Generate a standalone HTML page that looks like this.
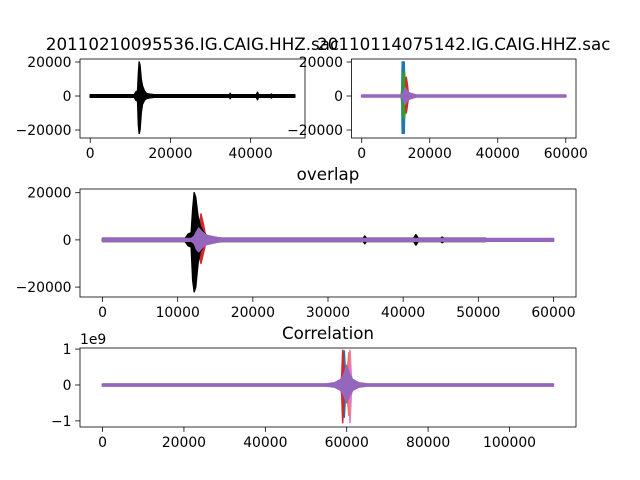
<!DOCTYPE html>
<html><head><meta charset="utf-8"><style>
html,body{margin:0;padding:0;background:#fff;}
svg{display:block;font-family:"DejaVu Sans","Liberation Sans",sans-serif;}
</style></head><body>
<svg id="fig" width="640" height="480" xmlns="http://www.w3.org/2000/svg"></svg>
<script>
// ---------- data (envelopes) ----------
const a1T  = [0,11000,11400,11800,12000,12200,12400,12700,13000,13500,14000,15000,16000,34700,34900,35100,41400,41700,42000,45000,45200,45400,51000];
const a1Up = [700,700,2500,3000,13000,20000,18000,10000,6000,3000,1500,1000,700,700,1600,700,700,2200,700,700,1200,700,700];
const a1Lo = [-700,-700,-2500,-3000,-17000,-22000,-20000,-10000,-5000,-2500,-1500,-1000,-700,-700,-1600,-700,-700,-2200,-700,-700,-1200,-700,-700];

const blueT  = [0,11600,11800,11900,12500,12700,12900,60000];
const blueUp = [400,400,4000,20000,20000,3000,400,400];
const blueLo = [-400,-400,-4000,-22000,-22000,-3000,-400,-400];
const greenT  = [0,11800,12000,12200,12600,12900,13200,60000];
const greenUp = [400,400,8000,14000,14000,5000,400,400];
const greenLo = [-400,-400,-8000,-13000,-13000,-4000,-400,-400];
const redT  = [0,12500,12900,13100,13400,13800,60000];
const redUp = [400,400,6000,11000,7000,400,400];
const redLo = [-400,-400,-6000,-10000,-6000,-400,-400];
const purT  = [0,11800,12200,12500,12800,13200,13800,15000,16000,60000];
const purUp = [600,600,1500,3500,5000,3500,2000,1200,600,600];
const purLo = [-600,-600,-1500,-4000,-5000,-3500,-2000,-1200,-600,-600];

const cBlueT = [0,58800,59200,59400,59700,60000,110750];
const cBlueUp = [0.02e9,0.02e9,0.3e9,0.95e9,0.3e9,0.02e9,0.02e9];
const cBlueLo = [-0.02e9,-0.02e9,-0.3e9,-0.9e9,-0.3e9,-0.02e9,-0.02e9];
const cOrT = [0,59800,60200,60500,60800,61100,110750];
const cOrUp = [0.02e9,0.02e9,0.4e9,0.9e9,0.4e9,0.02e9,0.02e9];
const cOrLo = [-0.02e9,-0.02e9,-0.4e9,-0.85e9,-0.4e9,-0.02e9,-0.02e9];
const cRedT = [0,58500,58800,59000,59300,59600,110750];
const cRedUp = [0.02e9,0.02e9,0.3e9,0.97e9,0.3e9,0.02e9,0.02e9];
const cRedLo = [-0.02e9,-0.02e9,-0.3e9,-1.05e9,-0.3e9,-0.02e9,-0.02e9];
const cPinkT = [0,60300,60600,60800,61100,61400,110750];
const cPinkUp = [0.02e9,0.02e9,0.3e9,0.97e9,0.3e9,0.02e9,0.02e9];
const cPinkLo = [-0.02e9,-0.02e9,-0.3e9,-1.05e9,-0.3e9,-0.02e9,-0.02e9];
const cPurT = [0,55000,57000,58500,59300,60000,60700,61500,63000,65000,110750];
const cPurUp = [0.03e9,0.03e9,0.06e9,0.15e9,0.3e9,0.55e9,0.3e9,0.15e9,0.06e9,0.03e9,0.03e9];
const cPurLo = [-0.03e9,-0.03e9,-0.06e9,-0.15e9,-0.3e9,-0.5e9,-0.3e9,-0.15e9,-0.06e9,-0.03e9,-0.03e9];

const ticks1X = [0,20000,40000];
const ticks2X = [0,20000,40000,60000];
const ticks3X = [0,10000,20000,30000,40000,50000,60000];
const ticks4X = [0,20000,40000,60000,80000,100000];
const ticksSY = [-20000,0,20000];
const ticks4Y = [-1e9,0,1e9];
const ticks4YLab = ["\u22121","0","1"];

// ---------- drawing ----------
const NS="http://www.w3.org/2000/svg";
const fig=document.getElementById('fig');
function mk(tag,attrs,parent){const e=document.createElementNS(NS,tag);for(const k in attrs)e.setAttribute(k,attrs[k]);(parent||fig).appendChild(e);return e;}
function lab(v){return v<0?"\u2212"+(-v):String(v);}

function makeAxes(name,x0,y0,x1,y1,xmin,xmax,ymin,ymax){
  const g=mk('g',{});
  
  
  const ax={g,x0,y0,x1,y1,
    sx:v=>x0+(v-xmin)/(xmax-xmin)*(x1-x0),
    sy:v=>y1-(v-ymin)/(ymax-ymin)*(y1-y0)};
  const cid='clip-'+name;
  const cp=mk('clipPath',{id:cid},g);
  mk('rect',{x:x0,y:y0,width:x1-x0,height:y1-y0},cp);
  ax.plot=mk('g',{'clip-path':'url(#'+cid+')'},g);
  return ax;
}
function finishAxes(ax,xt,yt,ytl,title){
  const f=mk('rect',{x:ax.x0,y:ax.y0,width:ax.x1-ax.x0,height:ax.y1-ax.y0,fill:'none',stroke:'#000','stroke-width':0.8},ax.g);
  
  
  xt.forEach(v=>{const x=ax.sx(v);
    mk('line',{x1:x,x2:x,y1:ax.y1,y2:ax.y1+4.9,stroke:'#000','stroke-width':0.8},ax.g);
    const t=mk('text',{x:x,y:ax.y1+20,'text-anchor':'middle','font-size':13.9},ax.g);
    
    
    t.textContent=lab(v);});
  yt.forEach((v,i)=>{const y=ax.sy(v);
    mk('line',{x1:ax.x0-4.9,x2:ax.x0,y1:y,y2:y,stroke:'#000','stroke-width':0.8},ax.g);
    const t=mk('text',{x:ax.x0-8.5,y:y+5,'text-anchor':'end','font-size':13.9},ax.g);
    
    
    t.textContent=ytl?ytl[i]:lab(v);});
  const tt=mk('text',{x:(ax.x0+ax.x1)/2,y:ax.y0-9,'text-anchor':'middle','font-size':16.7},ax.g);
  
  
  tt.textContent=title;
}
function env(ax,name,T,U,L,color){
  let pts=[];
  for(let i=0;i<T.length;i++)pts.push(ax.sx(T[i]).toFixed(1)+','+ax.sy(U[i]).toFixed(1));
  for(let i=T.length-1;i>=0;i--)pts.push(ax.sx(T[i]).toFixed(1)+','+ax.sy(L[i]).toFixed(1));
  const p=mk('polygon',{points:pts.join(' '),fill:color,stroke:color,'stroke-width':1.5,'stroke-linejoin':'round'},ax.plot);
  
  
}
const BLUE='#1f77b4',OR='#ff7f0e',GR='#2ca02c',RED='#d62728',PUR='#9467bd',PINK='#e377c2';

const A1=makeAxes('axes-trace-1',80,59,305,138,-2550,53550,-24700,21765);
env(A1,'trace-black',a1T,a1Up,a1Lo,'#000');
finishAxes(A1,ticks1X,ticksSY,null,'20110210095536.IG.CAIG.HHZ.sac');

const A2=makeAxes('axes-trace-2',351.5,59,576,138,-3000,63000,-24700,21765);
env(A2,'trace-blue',blueT,blueUp,blueLo,BLUE);
env(A2,'trace-green',greenT,greenUp,greenLo,GR);
env(A2,'trace-red',redT,redUp,redLo,RED);
env(A2,'trace-purple',purT,purUp,purLo,PUR);
finishAxes(A2,ticks2X,ticksSY,null,'20110114075142.IG.CAIG.HHZ.sac');

const A3=makeAxes('axes-overlap',80,189,576,297,-3000,63000,-24200,21570);
env(A3,'overlap-red',redT,redUp,redLo,RED);
env(A3,'overlap-black',a1T,a1Up,a1Lo,'#000');
env(A3,'overlap-purple',purT,purUp,purLo,PUR);
finishAxes(A3,ticks3X,ticksSY,null,'overlap');

const A4=makeAxes('axes-correlation',80,348,576,427,-5540,116340,-1.17e9,1.03e9);
env(A4,'corr-blue',cBlueT,cBlueUp,cBlueLo,BLUE);
env(A4,'corr-orange',cOrT,cOrUp,cOrLo,OR);
env(A4,'corr-red',cRedT,cRedUp,cRedLo,RED);
env(A4,'corr-pink',cPinkT,cPinkUp,cPinkLo,PINK);
env(A4,'corr-purple',cPurT,cPurUp,cPurLo,PUR);
finishAxes(A4,ticks4X,ticks4Y,ticks4YLab,'Correlation');
const off=mk('text',{x:80,y:344,'font-size':13.9});


off.textContent='1e9';
</script>
</body></html>
